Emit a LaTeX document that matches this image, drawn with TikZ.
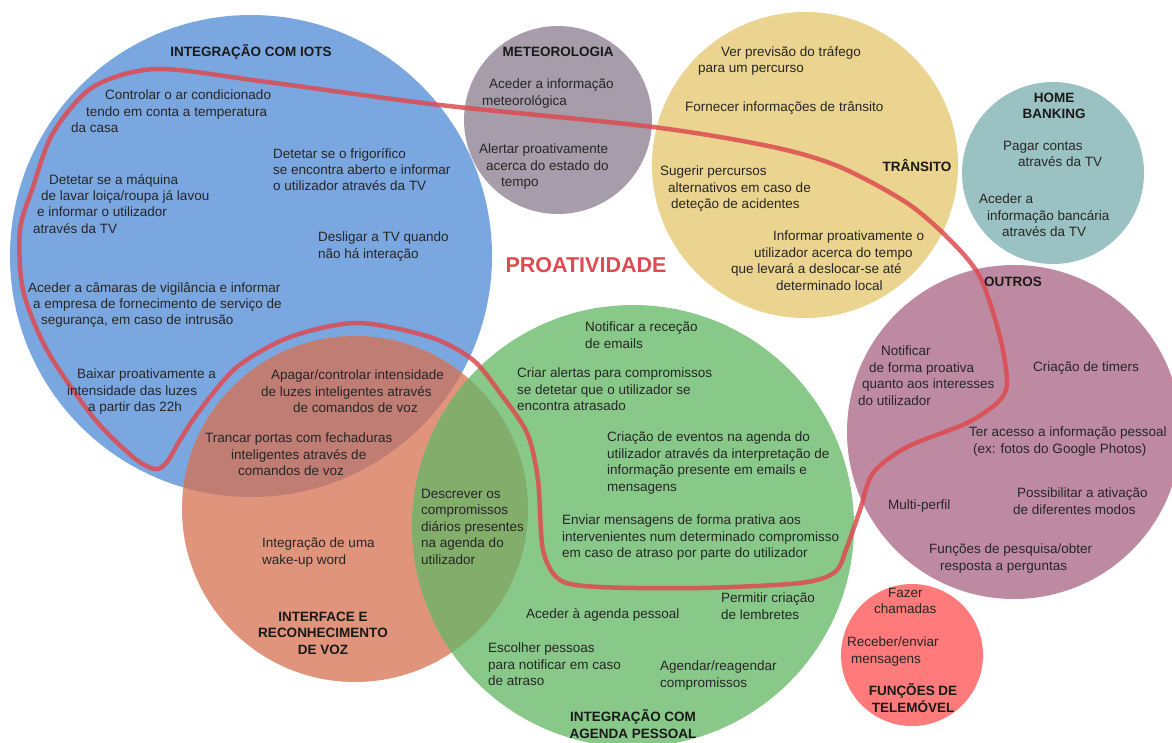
\documentclass[tikz,border=0pt]{standalone}
\usepackage{fontspec}
\setmainfont{Liberation Sans}
\usepackage{xcolor}
\definecolor{iotblue}{HTML}{7BA7E0}
\definecolor{voiceorange}{HTML}{E0947C}
\definecolor{agendagreen}{HTML}{88C989}
\definecolor{meteogray}{HTML}{A79CAA}
\definecolor{transityellow}{HTML}{EBD48F}
\definecolor{bankteal}{HTML}{9BC2C3}
\definecolor{othermauve}{HTML}{BE8AA2}
\definecolor{phonered}{HTML}{FF7B7B}
\definecolor{mixbo}{HTML}{BF7D73}
\definecolor{mixog}{HTML}{82AD6A}
\definecolor{proact}{HTML}{DD4B50}

\begin{document}
\begin{tikzpicture}[
  x=1pt, y=-1pt,
  txt/.style={anchor=north west, inner sep=0pt, align=left,
              font=\fontsize{13.5}{16.4}\selectfont, text=black!85},
  ttl/.style={inner sep=0pt, align=center,
              font=\fontsize{13.5}{16.6}\selectfont\bfseries, text=black!90},
  zone/.style={draw=proact, line width=4.5pt, opacity=0.85}
]
  \useasboundingbox (0,0) rectangle (1172,742);

  % circle centres
  \coordinate (cIot)   at (251,256);
  \coordinate (cVoice) at (355,509);
  \coordinate (cAg)    at (633,526);
  \coordinate (cMet)   at (558,120);
  \coordinate (cTra)   at (805,165);
  \coordinate (cBank)  at (1053,173);
  \coordinate (cOth)   at (1014,432);
  \coordinate (cTel)   at (912,655);

  \fill[iotblue]       (cIot)   circle[radius=241];
  \fill[voiceorange]   (cVoice) circle[radius=173];
  \fill[agendagreen]   (cAg)    circle[radius=221];
  \fill[meteogray]     (cMet)   circle[radius=94];
  \fill[transityellow] (cTra)   circle[radius=153];
  \fill[bankteal]      (cBank)  circle[radius=91];
  \fill[othermauve]    (cOth)   circle[radius=167];
  \fill[phonered]      (cTel)   circle[radius=71];

  % overlaps
  \begin{scope}
    \clip (cIot) circle[radius=241];
    \fill[mixbo] (cVoice) circle[radius=173];
  \end{scope}
  \begin{scope}
    \clip (cVoice) circle[radius=173];
    \fill[mixog] (cAg) circle[radius=221];
  \end{scope}

  % proactivity boundary
  \draw[zone] plot[smooth cycle, tension=0.5] coordinates {
    (157,69) (267,82) (440,105) (653,127) (773,147) (840,167) (907,203)
    (950,240) (980,277) (1000,337) (1007,383) (998,402) (967,423)
    (907,447) (873,473) (860,510) (847,547) (835,572) (800,583)
    (700,588) (600,587) (560,580) (543,550) (538,480) (527,433)
    (500,393) (473,360) (430,337) (357,323) (290,337) (237,367)
    (200,410) (180,440) (167,462) (155,469) (133,457) (93,417)
    (47,350) (23,290) (20,230) (33,187) (53,133) (93,87)};

  \node[font=\fontsize{21.5}{24}\selectfont\bfseries, text=proact, inner sep=0pt]
    (proTitle) at (586,265) {PROATIVIDADE};

  % Integração com IoTs
  \node[ttl] (tIot) at (251,52) {INTEGRAÇÃO COM IOTS};
  \node[txt] (iotA) at (71,90) {\hspace*{34pt}Controlar o ar condicionado\\\hspace*{15pt}tendo em conta a temperatura\\da casa};
  \node[txt] (iotB) at (273,148) {Detetar se o frigorífico\\se encontra aberto e informar\\o utilizador através da TV};
  \node[txt] (iotC) at (33,174) {\hspace*{16pt}Detetar se a máquina\\\hspace*{8pt}de lavar loiça/roupa já lavou\\\hspace*{4pt}e informar o utilizador\\através da TV};
  \node[txt] (iotD) at (318,232) {Desligar a TV quando\\não há interação};
  \node[txt] (iotE) at (28,282) {Aceder a câmaras de vigilância e informar\\\hspace*{5pt}a empresa de fornecimento de serviço de\\\hspace*{13pt}segurança, em caso de intrusão};
  \node[txt] (iotF) at (67,369) {\hspace*{10pt}Baixar proativamente a\\intensidade das luzes\\\hspace*{21pt}a partir das 22h};
  \node[txt] (mixA) at (261,370) {\hspace*{10pt}Apagar/controlar intensidade\\de luzes inteligentes através\\\hspace*{32pt}de comandos de voz};
  \node[txt] (mixB) at (205,433) {Trancar portas com fechaduras\\\hspace*{26pt}inteligentes através de\\\hspace*{33pt}comandos de voz};

  % Interface e reconhecimento de voz
  \node[txt] (voiceA) at (262,538) {Integração de uma\\wake-up word};
  \node[ttl] (tVoice) at (323,633) {INTERFACE E\\RECONHECIMENTO\\DE VOZ};
  \node[txt] (mixC) at (421,489) {Descrever os\\compromissos\\diários presentes\\na agenda do\\utilizador};

  % Integração com agenda pessoal
  \node[txt] (agA) at (585,322) {Notificar a receção\\de emails};
  \node[txt] (agB) at (517,368) {Criar alertas para compromissos\\se detetar que o utilizador se\\encontra atrasado};
  \node[txt] (agC) at (607,432) {Criação de eventos na agenda do\\utilizador através da interpretação de\\informação presente em emails e\\mensagens};
  \node[txt] (agD) at (562,515) {Enviar mensagens de forma prativa aos\\intervenientes num determinado compromisso\\em caso de atraso por parte do utilizador};
  \node[txt] (agE) at (526,608) {Aceder à agenda pessoal};
  \node[txt] (agF) at (721,593) {Permitir criação\\de lembretes};
  \node[txt] (agG) at (488,643) {Escolher pessoas\\para notificar em caso\\de atraso};
  \node[txt] (agH) at (660,661) {Agendar/reagendar\\compromissos};
  \node[ttl] (tAg) at (633,724) {INTEGRAÇÃO COM\\AGENDA PESSOAL};

  % Meteorologia
  \node[ttl] (tMet) at (558,52) {METEOROLOGIA};
  \node[txt] (metA) at (482,79) {\hspace*{7pt}Aceder a informação\\meteorológica};
  \node[txt] (metB) at (479,144) {Alertar proativamente\\\hspace*{7pt}acerca do estado do\\\hspace*{22pt}tempo};

  % Trânsito
  \node[txt] (trA) at (698,46) {\hspace*{23pt}Ver previsão do tráfego\\para um percurso};
  \node[txt] (trB) at (685,101) {Fornecer informações de trânsito};
  \node[ttl] (tTra) at (917,166) {TRÂNSITO};
  \node[txt] (trC) at (660,166) {Sugerir percursos\\\hspace*{8pt}alternativos em caso de\\\hspace*{11pt}deteção de acidentes};
  \node[txt] (trD) at (731,231) {\hspace*{42pt}Informar proativamente o\\\hspace*{23pt}utilizador acerca do tempo\\que levará a deslocar-se até\\\hspace*{45pt}determinado local};

  % Home banking
  \node[ttl] (tBank) at (1054,106) {HOME\\BANKING};
  \node[txt] (bankA) at (1003,141) {Pagar contas\\\hspace*{15pt}através da TV};
  \node[txt] (bankB) at (979,194) {Aceder a\\\hspace*{8pt}informação bancária\\\hspace*{23pt}através da TV};

  % Outros
  \node[ttl] (tOth) at (1013,282) {OUTROS};
  \node[txt] (othA) at (858,346) {\hspace*{23pt}Notificar\\\hspace*{11pt}de forma proativa\\\hspace*{4pt}quanto aos interesses\\do utilizador};
  \node[txt] (othB) at (1033,362) {Criação de timers};
  \node[txt] (othC) at (969,427) {Ter acesso a informação pessoal\\\hspace*{4pt}(ex: fotos do Google Photos)};
  \node[txt] (othD) at (888,500) {Multi-perfil};
  \node[txt] (othE) at (1013,488) {\hspace*{4pt}Possibilitar a ativação\\de diferentes modos};
  \node[txt] (othF) at (929,544) {Funções de pesquisa/obter\\\hspace*{11pt}resposta a perguntas};

  % Funções de telemóvel
  \node[txt] (telA) at (874,588) {\hspace*{14pt}Fazer\\chamadas};
  \node[txt] (telB) at (847,637) {Receber/enviar\\\hspace*{4pt}mensagens};
  \node[ttl] (tTel) at (913,698) {FUNÇÕES DE\\TELEMÓVEL};
\end{tikzpicture}
\end{document}
